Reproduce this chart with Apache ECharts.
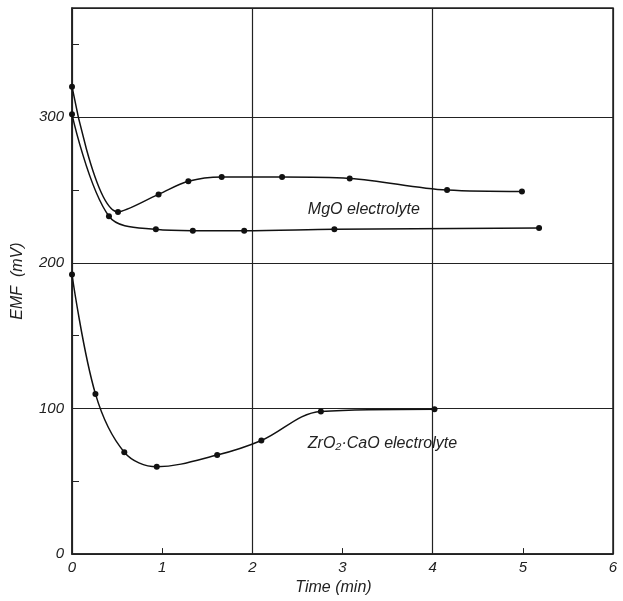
<!DOCTYPE html>
<html>
<head>
<meta charset="utf-8">
<script src="https://cdn.jsdelivr.net/npm/echarts@6/dist/echarts.min.js"></script>
<style>
  html, body { margin: 0; padding: 0; background: #fff; }
  #chart { width: 623px; height: 601px; }
</style>
</head>
<body>
<div id="chart"></div>
<script>
// EMF vs time
var mgoUpperX = [0, 0.51, 0.96, 1.29, 1.66, 2.33, 3.08, 4.16, 4.99];
var mgoUpperY = [321, 235, 247, 256, 259, 259, 258, 250, 249];

var mgoLowerX = [0, 0.41, 0.93, 1.34, 1.91, 2.91, 5.18];
var mgoLowerY = [302, 232, 223, 222, 222, 223, 224];

var zrX = [0, 0.26, 0.58, 0.94, 1.61, 2.10, 2.76, 4.02];
var zrY = [192, 110, 70, 60, 68, 78, 98, 99.5];

var xTicks = [0, 1, 2, 3, 4, 5, 6];
var yTicks = [0, 100, 200, 300];

function pairs(xs, ys) {
  return xs.map(function (x, i) { return [x, ys[i]]; });
}

var ink = '#222';
var font = 'Liberation Sans';

var chart = echarts.init(document.getElementById('chart'));

function lineSeries(data) {
  return {
    type: 'line',
    data: data,
    smooth: 0.35,
    symbol: 'circle',
    symbolSize: 6,
    itemStyle: { color: '#111' },
    lineStyle: { color: '#111', width: 1.5 }
  };
}

var upper = lineSeries(pairs(mgoUpperX, mgoUpperY));
var lower = lineSeries(pairs(mgoLowerX, mgoLowerY));
var zr = lineSeries(pairs(zrX, zrY));

// text labels sitting next to the curves
function note(text, x, y) {
  return {
    symbol: 'circle',
    symbolSize: 0,
    silent: true,
    animation: false,
    data: [{
      coord: [x, y],
      label: {
        show: true,
        position: 'right',
        formatter: text,
        color: ink,
        fontFamily: font,
        fontStyle: 'italic',
        fontSize: 16
      }
    }]
  };
}
lower.markPoint = note('MgO electrolyte', 2.56, 236.5);
zr.markPoint = note('ZrO\u2082\u00b7CaO electrolyte', 2.56, 76);

chart.setOption({
  animation: false,
  grid: {
    left: 72, right: 10, top: 8, bottom: 41,
    show: true,
    borderColor: ink,
    borderWidth: 1.5
  },
  xAxis: {
    type: 'value',
    min: 0, max: 6, interval: 1,
    name: 'Time (min)',
    nameLocation: 'middle',
    nameGap: 21,
    nameTextStyle: { color: ink, fontFamily: font, fontStyle: 'italic', fontSize: 16, padding: [0, 18, 0, 0] },
    axisLine: { lineStyle: { color: ink, width: 1.5 } },
    axisTick: { inside: true, length: 6, lineStyle: { color: ink } },
    axisLabel: {
      color: ink, fontFamily: font, fontStyle: 'italic', fontSize: 15, margin: 6,
      formatter: function (v) { return xTicks.indexOf(v) >= 0 ? v : ''; }
    },
    // only every other vertical line is drawn (2, 4, 6)
    splitLine: { show: true, lineStyle: { color: [ink, 'rgba(0,0,0,0)'], width: 1.2 } }
  },
  yAxis: {
    type: 'value',
    min: 0, max: 375, interval: 50,
    name: 'EMF  (mV)',
    nameLocation: 'middle',
    nameRotate: 90,
    nameGap: 46,
    nameTextStyle: { color: ink, fontFamily: font, fontStyle: 'italic', fontSize: 16 },
    axisLine: { lineStyle: { color: ink, width: 1.5 } },
    axisTick: { inside: true, length: 7, lineStyle: { color: ink } },
    axisLabel: {
      color: ink, fontFamily: font, fontStyle: 'italic', fontSize: 15, margin: 8,
      showMaxLabel: false,
      formatter: function (v) { return yTicks.indexOf(v) >= 0 ? v : ''; }
    },
    splitLine: { show: true, lineStyle: { color: [ink, 'rgba(0,0,0,0)'], width: 1.2 } }
  },
  series: [upper, lower, zr]
});
</script>
</body>
</html>
